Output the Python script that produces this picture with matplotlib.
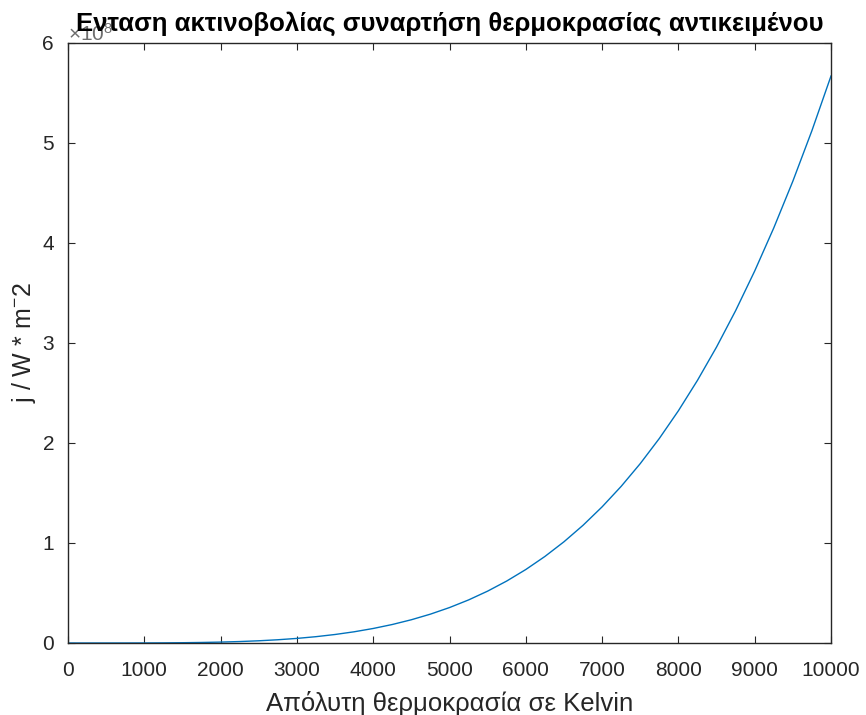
import matplotlib
matplotlib.use("Agg")
import matplotlib.pyplot as plt
from matplotlib.ticker import MultipleLocator

plt.rcParams['font.family'] = ['Liberation Sans', 'DejaVu Sans']
plt.rcParams['mathtext.fontset'] = 'custom'
plt.rcParams['mathtext.rm'] = 'Liberation Sans'
plt.rcParams['mathtext.it'] = 'Liberation Sans'
plt.rcParams['mathtext.bf'] = 'Liberation Sans:bold'

# Temperature (K) and radiant exitance j (units of 1e8 W/m^2)
temperature_k = [0, 250, 500, 750, 1000, 1250, 1500, 1750, 2000, 2250, 2500,
                 2750, 3000, 3250, 3500, 3750, 4000, 4250, 4500, 4750, 5000,
                 5250, 5500, 5750, 6000, 6250, 6500, 6750, 7000, 7250, 7500,
                 7750, 8000, 8250, 8500, 8750, 9000, 9250, 9500, 9750, 10000]
intensity_e8 = [0.0, 0.0000022, 0.000035, 0.00018, 0.000567, 0.00138, 0.00287,
                0.00532, 0.00907, 0.01453, 0.02215, 0.03243, 0.04593, 0.06326,
                0.08508, 0.1121, 0.1452, 0.1850, 0.2325, 0.2886, 0.3544,
                0.4307, 0.5188, 0.6198, 0.7348, 0.8652, 1.0121, 1.1770,
                1.3614, 1.5665, 1.7940, 2.0454, 2.3224, 2.6266, 2.9598,
                3.3236, 3.7201, 4.1509, 4.6183, 5.1238, 5.67]

axis_color = '#262626'
line_color = '#0072BD'

fig = plt.figure(figsize=(8.66, 7.15), dpi=100)
ax = fig.add_axes([68 / 866, 1 - 643 / 715, (831 - 68) / 866, (643 - 43) / 715])

ax.plot(temperature_k, intensity_e8, color=line_color, linewidth=1.0)

ax.set_xlim(0, 10000)
ax.set_ylim(0, 6)
ax.xaxis.set_major_locator(MultipleLocator(1000))
ax.yaxis.set_major_locator(MultipleLocator(1))

for side in ax.spines.values():
    side.set_color(axis_color)
    side.set_linewidth(1.0)

ax.tick_params(direction='in', length=5, width=0.8, color=axis_color,
               labelcolor=axis_color, labelsize=15, top=True, right=True)
ax.tick_params(axis='x', pad=13)
ax.tick_params(axis='y', pad=10)

ax.set_xlabel('Απόλυτη θερμοκρασία σε Kelvin', fontsize=18.5, color=axis_color, labelpad=8)
ax.set_ylabel('j / W * m$^{-}$2', fontsize=18, color=axis_color, labelpad=3)
ax.set_title('Ενταση ακτινοβολίας συναρτήση θερμοκρασίας αντικειμένου',
             fontsize=18.5, fontweight='bold', color='black', pad=9, zorder=5)

# Axis exponent marker, drawn underneath the title
ax.text(0.0, 0.997, '×10$^{8}$', transform=ax.transAxes, fontsize=15,
        color='#6e6e6e', ha='left', va='bottom', zorder=1)

fig.savefig('out.png', dpi=100)
